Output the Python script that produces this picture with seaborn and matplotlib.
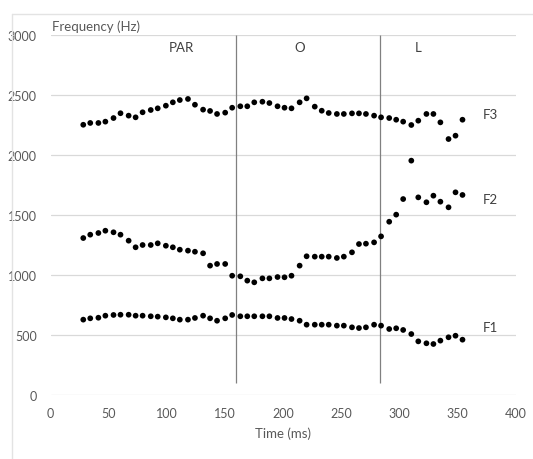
import pandas as pd
import matplotlib
matplotlib.use("Agg")
import matplotlib.pyplot as plt
from matplotlib.lines import Line2D
import seaborn as sns

# --- Data ---
time_ms = [28, 34, 41, 47, 54, 60, 67, 73, 79, 86, 92, 99, 105, 111, 118, 124,
           131, 137, 143, 150, 156, 163, 169, 175, 182, 188, 195, 201, 207, 214,
           220, 227, 233, 239, 246, 252, 259, 265, 271, 278, 284, 291, 297, 303,
           310, 316, 323, 329, 335, 342, 348, 354]

f1_hz = [628, 639, 644, 661, 667, 669, 669, 661, 661, 656, 653, 647, 639, 628,
         628, 642, 661, 639, 619, 639, 667, 656, 656, 656, 656, 656, 642, 642,
         633, 619, 586, 586, 586, 586, 578, 578, 564, 558, 564, 586, 578, 550,
         556, 542, 508, 447, 431, 425, 453, 481, 494, 461]

f2_hz = [1308, 1336, 1350, 1369, 1356, 1336, 1286, 1231, 1250, 1250, 1264, 1244,
         1231, 1211, 1203, 1194, 1181, 1078, 1092, 1092, 994, 989, 953, 939,
         972, 972, 983, 981, 994, 1078, 1156, 1153, 1153, 1153, 1142, 1153,
         1189, 1258, 1261, 1272, 1322, 1444, 1503, 1633, 1953, 1647, 1606, 1661,
         1611, 1564, 1689, 1667]

f3_hz = [2252, 2267, 2267, 2278, 2308, 2348, 2328, 2314, 2356, 2375, 2389, 2411,
         2439, 2458, 2467, 2419, 2378, 2367, 2342, 2353, 2394, 2406, 2406, 2439,
         2444, 2433, 2406, 2394, 2389, 2439, 2472, 2403, 2369, 2350, 2342, 2342,
         2347, 2347, 2342, 2328, 2314, 2308, 2294, 2278, 2250, 2286, 2342, 2342,
         2272, 2133, 2161, 2294]

boundaries_ms = [159, 283]
segment_labels = ["PAR", "O", "L"]
segment_x = [112, 214, 316]
series_names = ["F1", "F2", "F3"]
series_label_y = [570, 1633, 2342]

# --- Long-form table for seaborn ---
frames = []
for name, vals in zip(series_names, [f1_hz, f2_hz, f3_hz]):
    frames.append(pd.DataFrame({"Time": time_ms, "Frequency": vals, "Formant": name}))
df = pd.concat(frames, ignore_index=True)

sns.set_style("white")
plt.rcParams["font.family"] = ["Lato", "DejaVu Sans"]

text_grey = "#595959"

fig = plt.figure(figsize=(5.33, 4.6), dpi=100)
ax = fig.add_axes([50.7 / 533, 1 - 396 / 460, (516 - 50.7) / 533, (396 - 36) / 460])

# chart frame (Excel-like light border, running off the right and bottom)
fx = 11.5 / 533
fy = 1 - 14.5 / 460
fig.lines.append(Line2D([fx, fx], [0, fy], transform=fig.transFigure,
                        color="#e3e3e3", linewidth=1.0))
fig.lines.append(Line2D([fx, 1], [fy, fy], transform=fig.transFigure,
                        color="#e3e3e3", linewidth=1.0))

sns.scatterplot(data=df, x="Time", y="Frequency", hue="Formant",
                palette=["black", "black", "black"], s=17, linewidth=0,
                legend=False, ax=ax, zorder=3)

ax.set_xlim(0, 400)
ax.set_ylim(0, 3000)
ax.set_xticks(range(0, 401, 50))
ax.set_yticks(range(0, 3001, 500))
ax.yaxis.grid(True, color="#d9d9d9", linewidth=0.9)
ax.xaxis.grid(False)
for sp in ax.spines.values():
    sp.set_visible(False)
ax.tick_params(axis="both", length=0, labelsize=9, colors=text_grey)
ax.tick_params(axis="y", pad=10)
ax.tick_params(axis="x", pad=9)

ax.set_xlabel("Time (ms)", fontsize=9.5, color=text_grey, labelpad=5)
ax.set_ylabel("")
ax.text(1, 3075, "Frequency (Hz)", fontsize=9.5, color=text_grey,
        ha="left", va="center")

for b in boundaries_ms:
    ax.vlines(b, 100, 3000, color="#808080", linewidth=0.9, zorder=2)

for lab, xx in zip(segment_labels, segment_x):
    ax.text(xx, 2900, lab, fontsize=9.5, color="#404040", ha="center", va="center")

for lab, yy in zip(series_names, series_label_y):
    ax.text(378, yy, lab, fontsize=9.5, color="#404040", ha="center", va="center")

fig.savefig("out.png", dpi=100)
plt.close(fig)
